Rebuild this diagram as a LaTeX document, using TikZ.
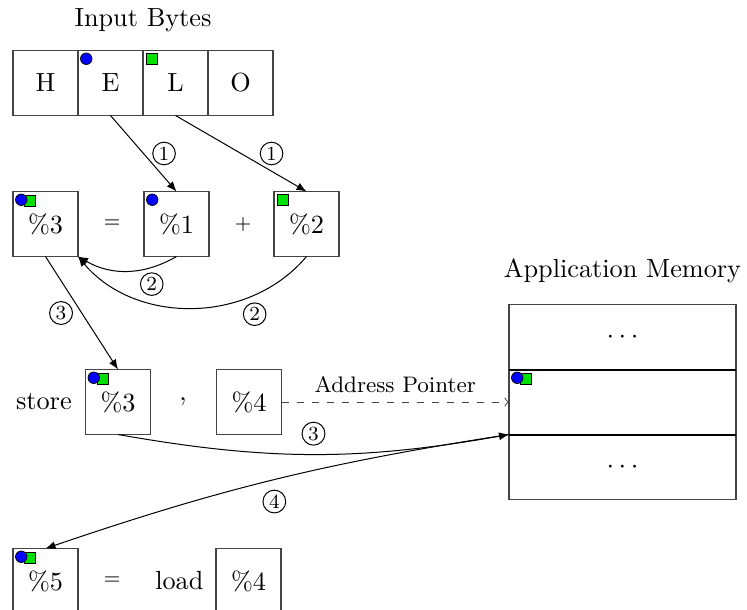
\documentclass[tikz,border=0pt]{standalone}
\usepackage{tikz}
\usetikzlibrary{arrows.meta,positioning}
\definecolor{cdot}{HTML}{0000FF}
\definecolor{csq}{HTML}{00E000}
\definecolor{cline}{HTML}{444444}
\tikzset{
  cell/.style={draw=cline,line width=0.5pt,minimum size=26pt,inner sep=0pt,outer sep=0pt,font=\fontsize{10.5}{12.6}\selectfont},
  mem/.style={cell,minimum width=90.8pt},
  txt/.style={font=\fontsize{10.5}{12.6}\selectfont},
  op/.style={font=\footnotesize},
  stepno/.style={circle,draw,inner sep=0.8pt,line width=0.4pt,font=\footnotesize},
  dottag/.style={circle,draw,fill=cdot,inner sep=0pt,minimum size=4.6pt,line width=0.3pt},
  sqtag/.style={draw,fill=csq,inner sep=0pt,minimum size=4.4pt,line width=0.3pt,anchor=north west},
  >={Latex[length=4pt,width=3.2pt]}
}

\begin{document}
\begin{tikzpicture}
    \useasboundingbox (0,0) rectangle (298.8pt,-243.6pt);
    % input bytes
    \node[cell] (inH) at (18.2pt,-33.2pt) {H};
    \node[cell,right=0pt of inH] (inE) {E};
    \node[cell,right=0pt of inE] (inL) {L};
    \node[cell,right=0pt of inL] (inO) {O};
    \node[txt,above=4pt of inE.north east] (inTitle) {Input Bytes};
    \node[dottag] at ([shift={(3.3pt,-3.3pt)}]inE.north west) {};
    \node[sqtag] at ([shift={(1.2pt,-0.9pt)}]inL.north west) {};

    % %3 = %1 + %2
    \node[cell] (vThree) at (18.2pt,-89.6pt) {\%3};
    \node[op,right=6.8pt of vThree] (eqA) {$=$};
    \node[cell,right=26.4pt of vThree] (vOne) {\%1};
    \node[op,right=6.8pt of vOne] (plus) {$+$};
    \node[cell,right=26pt of vOne] (vTwo) {\%2};
    \node[sqtag] at ([shift={(4.4pt,-1.2pt)}]vThree.north west) {};
    \node[dottag] at ([shift={(3.3pt,-3.3pt)}]vThree.north west) {};
    \node[dottag] at ([shift={(3.3pt,-3.3pt)}]vOne.north west) {};
    \node[sqtag] at ([shift={(1.2pt,-0.9pt)}]vTwo.north west) {};

    % store %3 , %4
    \node[cell] (sThree) at (47.2pt,-160.8pt) {\%3};
    \node[txt,left=2pt of sThree] (store) {store};
    \node[txt,right=8pt of sThree] (comma) {,};
    \node[cell,right=26.4pt of sThree] (sFour) {\%4};
    \node[sqtag] at ([shift={(4.4pt,-1.2pt)}]sThree.north west) {};
    \node[dottag] at ([shift={(3.3pt,-3.3pt)}]sThree.north west) {};

    % memory
    \node[mem] (memTop) at (249pt,-134.8pt) {$\cdots$};
    \node[mem,below=0pt of memTop] (memMid) {};
    \node[mem,below=0pt of memMid] (memBot) {$\cdots$};
    \node[txt,above=5pt of memTop] (memTitle) {Application Memory};
    \draw[line width=0.8pt] (memMid.north west) -- (memMid.north east);
    \draw[line width=0.8pt] (memMid.south west) -- (memMid.south east);
    \node[sqtag] at ([shift={(4.4pt,-1.2pt)}]memMid.north west) {};
    \node[dottag] at ([shift={(3.3pt,-3.3pt)}]memMid.north west) {};

    % %5 = load %4
    \node[cell] (lFive) at (18.2pt,-232.4pt) {\%5};
    \node[op,right=6.8pt of lFive] (eqB) {$=$};
    \node[cell,right=55.2pt of lFive] (lFour) {\%4};
    \node[txt,left=1.5pt of lFour] (load) {load};
    \node[sqtag] at ([shift={(4.4pt,-1.2pt)}]lFive.north west) {};
    \node[dottag] at ([shift={(3.3pt,-3.3pt)}]lFive.north west) {};

    % steps
    \draw[->] (inE.south) -- node[stepno,right=3.5pt] {1} (vOne.north);
    \draw[->] (inL.south) -- node[stepno,right=7.5pt] {1} (vTwo.north);
    \draw[->] (vOne.south) to[bend left=30] node[stepno,pos=0.25,below=2pt] {2} (vThree.south east);
    \draw[->] (vTwo.south) to[bend left=50] node[stepno,pos=0.25,below=3pt] {2} (vThree.south east);
    \draw[->] (vThree.south) -- node[stepno,left=3.5pt] {3} (sThree.north);
    \draw[->] (sThree.south) to[bend right=10] node[stepno,above=3.5pt] {3} (memMid.south west);
    \draw[->] (memMid.south west) to[bend right=5] node[stepno,below=4pt] {4} (lFive.north);
    \draw[dashed,-to,draw=cline] (sFour.east) -- node[font=\small,above] {Address Pointer} (memMid.west);
\end{tikzpicture}
\end{document}
